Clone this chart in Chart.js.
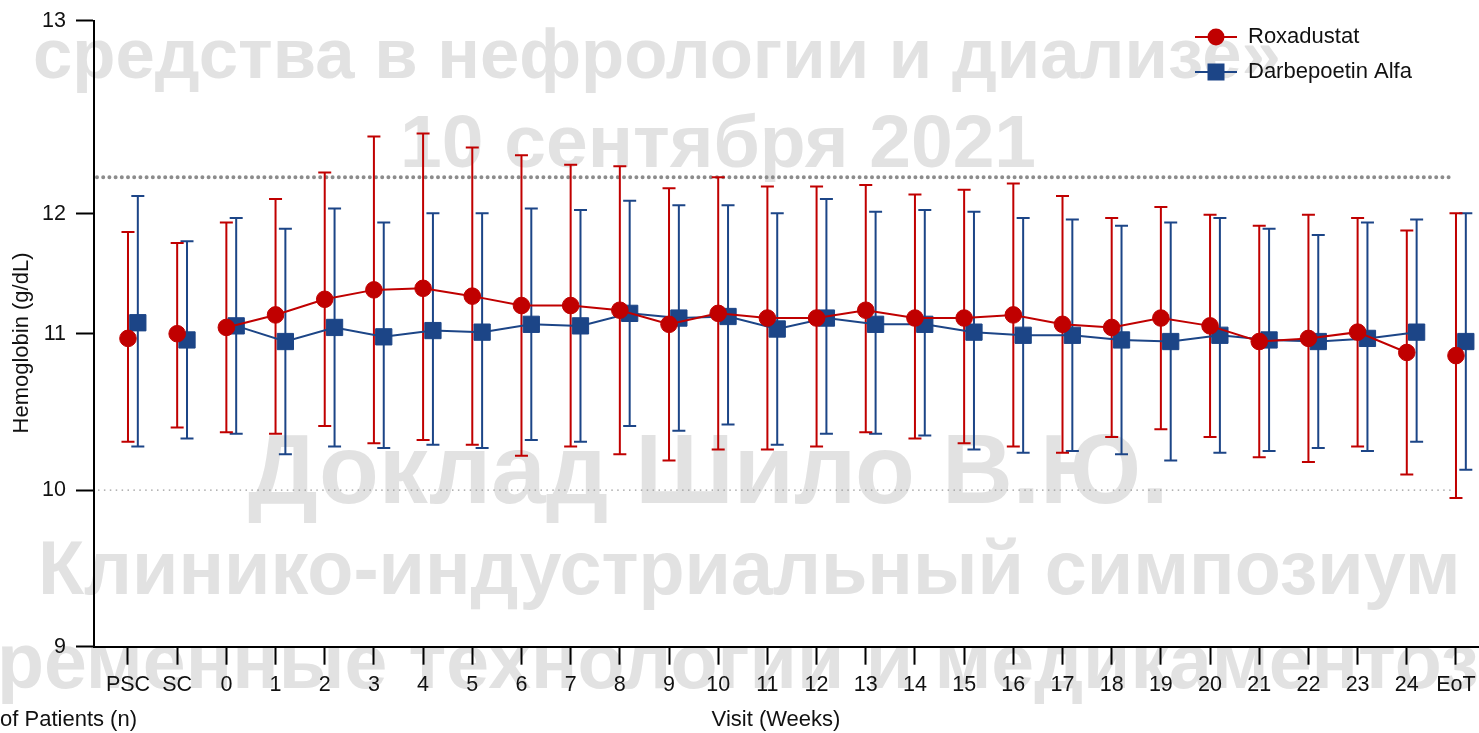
<!DOCTYPE html>
<html>
<head>
<meta charset="utf-8">
<script src="https://cdn.jsdelivr.net/npm/chart.js@4/dist/chart.umd.min.js"></script>
<style>
  html, body { margin: 0; padding: 0; background: #fff; }
  #wrap { width: 1479px; height: 733px; }
</style>
</head>
<body>
<div id="wrap"><canvas id="chartHb" width="1479" height="733"></canvas></div>
<script>
// Visitas (eje X)
const visits = ["PSC", "SC", "0", "1", "2", "3", "4", "5", "6", "7", "8", "9", "10", "11", "12",
    "13", "14", "15", "16", "17", "18", "19", "20", "21", "22", "23", "24", "EoT"];

// Roxadustat: media y extremos de la barra de error (g/dL)
const roxMean = [10.97, 11.00, 11.04, 11.12, 11.22, 11.28, 11.29, 11.24, 11.18, 11.18, 11.15, 11.06, 11.13, 11.10,
    11.10, 11.15, 11.10, 11.10, 11.12, 11.06, 11.04, 11.10, 11.05, 10.95, 10.97, 11.01, 10.88, 10.86];
const roxUpper = [11.65, 11.58, 11.71, 11.86, 12.03, 12.26, 12.28, 12.19, 12.14, 12.08, 12.07, 11.93, 12.00, 11.94,
    11.94, 11.95, 11.89, 11.92, 11.96, 11.88, 11.74, 11.81, 11.76, 11.69, 11.76, 11.74, 11.66, 11.77];
const roxLower = [10.31, 10.40, 10.37, 10.36, 10.41, 10.30, 10.32, 10.29, 10.22, 10.28, 10.23, 10.19, 10.26, 10.26,
    10.28, 10.37, 10.33, 10.30, 10.28, 10.24, 10.34, 10.39, 10.34, 10.21, 10.18, 10.28, 10.10, 9.95];

// Darbepoetin Alfa
const darbMean = [11.07, 10.96, 11.05, 10.95, 11.04, 10.98, 11.02, 11.01, 11.06, 11.05, 11.13, 11.10, 11.11, 11.03,
    11.10, 11.06, 11.06, 11.01, 10.99, 10.99, 10.96, 10.95, 10.99, 10.96, 10.95, 10.97, 11.01, 10.95];
const darbUpper = [11.88, 11.59, 11.74, 11.67, 11.80, 11.71, 11.77, 11.77, 11.80, 11.79, 11.85, 11.82, 11.82, 11.77,
    11.86, 11.78, 11.79, 11.78, 11.74, 11.73, 11.69, 11.71, 11.74, 11.67, 11.63, 11.71, 11.73, 11.77];
const darbLower = [10.28, 10.33, 10.36, 10.23, 10.28, 10.27, 10.29, 10.27, 10.32, 10.31, 10.41, 10.38, 10.42, 10.29,
    10.36, 10.36, 10.35, 10.26, 10.24, 10.25, 10.23, 10.19, 10.24, 10.25, 10.27, 10.25, 10.31, 10.13];

// Ticks del eje Y (la etiqueta "12" está desplazada en el original)
const yTickValues = [9, 10, 11, 11.765, 13];
const yTickLabels = ["9", "10", "11", "12", "13"];
// Rango objetivo (líneas punteadas)
const targetLow = 10;
const targetHigh = 12;

const RED = "#c00000";
const BLUE = "#1c4587";
const FONT = '"Liberation Sans", Arial, sans-serif';
const darbShift = 0.2;

// Marca de agua de fondo: texto, x, línea base, tamaño, parte oculta a la izquierda
const watermark = [
    ["средства в нефрологии и диализе»", 33, 78, 70.7, ""],
    ["10 сентября 2021", 400, 167, 75, ""],
    ["Доклад Шило В.Ю.", 248, 503, 98, ""],
    ["Клинико-индустриальный симпозиум", 38, 594, 75.5, ""],
    ["«Современные технологии и медикаментозные", -3, 688, 77, "«Сов"],
];

const watermarkPlugin = {
    id: "watermark",
    beforeDraw(chart) {
        const ctx = chart.ctx;
        ctx.save();
        ctx.fillStyle = "#e2e2e2";
        ctx.textBaseline = "alphabetic";
        watermark.forEach(([t, x, y, size, hidden]) => {
            ctx.font = "bold " + size + "px " + FONT;
            const off = hidden ? ctx.measureText(hidden).width : 0;
            ctx.fillText(t, x - off, y);
        });
        ctx.restore();
    },
};

// Área del gráfico fija: el eje X llega hasta el borde derecho
const fixedAreaPlugin = {
    id: "fixedArea",
    afterLayout(chart) {
        const { x, y } = chart.scales;
        const area = chart.chartArea;
        area.left = 94;
        area.top = 20.7;
        area.right = chart.width;
        area.bottom = 646.7;
        area.width = area.right - area.left;
        area.height = area.bottom - area.top;
        x.left = area.left;
        x.right = area.right;
        x.width = area.width;
        x.top = area.bottom;
        x.bottom = chart.height;
        x.height = x.bottom - x.top;
        y.left = 0;
        y.right = area.left;
        y.width = area.left;
        y.top = area.top;
        y.bottom = area.bottom;
        y.height = area.height;
        x.configure();
        y.configure();
    },
};

// Líneas de rango y barras de error
const errorBarsPlugin = {
    id: "errorBars",
    beforeDatasetsDraw(chart) {
        const { ctx, chartArea, scales: { x, y } } = chart;
        ctx.save();
        // línea punteada superior (12)
        let yy = y.getPixelForValue(targetHigh);
        ctx.strokeStyle = "#8c8c8c";
        ctx.lineWidth = 4;
        ctx.lineCap = "round";
        ctx.setLineDash([0, 6.2]);
        ctx.beginPath();
        ctx.moveTo(chartArea.left + 3, yy);
        ctx.lineTo(x.getPixelForValue(26.95), yy);
        ctx.stroke();
        // línea punteada inferior (10)
        yy = y.getPixelForValue(targetLow);
        ctx.strokeStyle = "#9a9a9a";
        ctx.lineWidth = 1.3;
        ctx.lineCap = "butt";
        ctx.setLineDash([1.5, 4.4]);
        ctx.beginPath();
        ctx.moveTo(chartArea.left + 4, yy);
        ctx.lineTo(x.getPixelForValue(26.95), yy);
        ctx.stroke();
        ctx.setLineDash([]);

        const bars = (lo, hi, shift, color) => {
            ctx.strokeStyle = color;
            ctx.lineWidth = 2;
            lo.forEach((l, i) => {
                const px = x.getPixelForValue(i + shift);
                const py1 = y.getPixelForValue(l);
                const py2 = y.getPixelForValue(hi[i]);
                ctx.beginPath();
                ctx.moveTo(px, py1);
                ctx.lineTo(px, py2);
                ctx.moveTo(px - 6.5, py1);
                ctx.lineTo(px + 6.5, py1);
                ctx.moveTo(px - 6.5, py2);
                ctx.lineTo(px + 6.5, py2);
                ctx.stroke();
            });
        };
        bars(darbLower, darbUpper, darbShift, BLUE);
        bars(roxLower, roxUpper, 0, RED);
        ctx.restore();
    },
};

// Leyenda y títulos de ejes
const labelsPlugin = {
    id: "labels",
    afterDraw(chart) {
        const ctx = chart.ctx;
        ctx.save();
        ctx.fillStyle = "#111";
        ctx.font = "22px " + FONT;
        ctx.textBaseline = "middle";

        // leyenda
        const items = [["Roxadustat", RED, "circle", 37], ["Darbepoetin Alfa", BLUE, "rect", 72]];
        items.forEach(([label, color, shape, ly]) => {
            ctx.strokeStyle = color;
            ctx.lineWidth = 2;
            ctx.beginPath();
            ctx.moveTo(1195, ly);
            ctx.lineTo(1237, ly);
            ctx.stroke();
            ctx.fillStyle = color;
            if (shape === "circle") {
                ctx.beginPath();
                ctx.arc(1216, ly, 8.5, 0, Math.PI * 2);
                ctx.fill();
            } else {
                ctx.fillRect(1207.5, ly - 8.5, 17, 17);
            }
            ctx.fillStyle = "#111";
            ctx.textAlign = "left";
            ctx.fillText(label, 1248, ly);
        });

        // títulos
        ctx.textAlign = "center";
        ctx.fillText("Visit (Weeks)", 776, 720);
        ctx.textAlign = "right";
        ctx.fillText("Number of Patients (n)", 137, 720);
        ctx.translate(22, 343);
        ctx.rotate(-Math.PI / 2);
        ctx.textAlign = "center";
        ctx.fillText("Hemoglobin (g/dL)", 0, 0);
        ctx.restore();
    },
};

const hideEnds = (color) => ({
    borderColor: (c) => (c.p0DataIndex < 2 || c.p1DataIndex > 26) ? "rgba(0,0,0,0)" : color,
});

const axisGrid = { drawOnChartArea: false, tickLength: 18, tickColor: "#000", tickWidth: 2 };

new Chart(document.getElementById("chartHb").getContext("2d"), {
    type: "line",
    data: {
        datasets: [{
                label: "Roxadustat",
                data: roxMean.map((v, i) => ({ x: i, y: v })),
                borderColor: RED,
                backgroundColor: RED,
                borderWidth: 2,
                pointStyle: "circle",
                pointRadius: 8.3,
                pointBorderWidth: 1,
                pointBorderColor: RED,
                segment: hideEnds(RED),
            },
            {
                label: "Darbepoetin Alfa",
                data: darbMean.map((v, i) => ({ x: i + darbShift, y: v })),
                borderColor: BLUE,
                backgroundColor: BLUE,
                borderWidth: 2,
                pointStyle: "rect",
                pointRadius: 11.5,
                pointBorderWidth: 1,
                pointBorderColor: BLUE,
                segment: hideEnds(BLUE),
            },
        ],
    },
    options: {
        responsive: false,
        animation: false,
        layout: { padding: { top: 21, right: 0, bottom: 0, left: 0 } },
        plugins: {
            legend: { display: false },
            tooltip: { enabled: false },
        },
        scales: {
            x: {
                type: "linear",
                min: -0.691,
                max: 27.468,
                afterBuildTicks: (s) => { s.ticks = visits.map((_, i) => ({ value: i })); },
                afterFit: (s) => { s.height = 86; },
                ticks: {
                    callback: (v, i) => visits[i],
                    autoSkip: false,
                    maxRotation: 0,
                    padding: 7,
                    color: "#111",
                    font: { size: 21.5, family: FONT },
                },
                grid: axisGrid,
                border: { color: "#000", width: 2 },
            },
            y: {
                min: 9,
                max: 13,
                afterBuildTicks: (s) => { s.ticks = yTickValues.map((v) => ({ value: v })); },
                afterFit: (s) => { s.width = 94; },
                ticks: {
                    callback: (v, i) => yTickLabels[i],
                    padding: 10,
                    color: "#111",
                    font: { size: 21.5, family: FONT },
                },
                grid: axisGrid,
                border: { color: "#000", width: 2 },
            },
        },
    },
    plugins: [fixedAreaPlugin, watermarkPlugin, errorBarsPlugin, labelsPlugin],
});
</script>
</body>
</html>
